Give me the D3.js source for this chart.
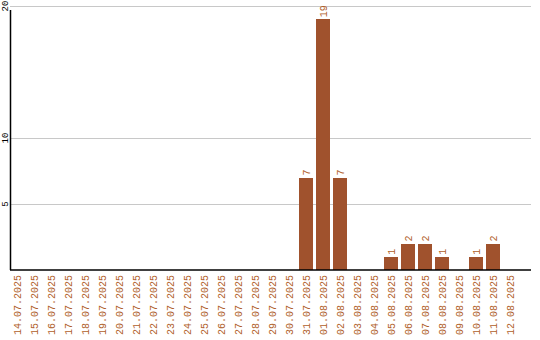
<!DOCTYPE html>
<html>
<head>
<meta charset="utf-8">
<script src="https://cdn.jsdelivr.net/npm/d3@7"></script>
<style>
  body { margin: 0; background: #fff; }
  text { font-family: "Liberation Mono", "DejaVu Sans Mono", monospace; }
</style>
</head>
<body>
<div id="chart"></div>
<script>
var svgWidth = 540;
var svgHeight = 340;

// data
var dates = ["14.07.2025", "15.07.2025", "16.07.2025", "17.07.2025", "18.07.2025",
  "19.07.2025", "20.07.2025", "21.07.2025", "22.07.2025", "23.07.2025",
  "24.07.2025", "25.07.2025", "26.07.2025", "27.07.2025", "28.07.2025",
  "29.07.2025", "30.07.2025", "31.07.2025", "01.08.2025", "02.08.2025",
  "03.08.2025", "04.08.2025", "05.08.2025", "06.08.2025", "07.08.2025",
  "08.08.2025", "09.08.2025", "10.08.2025", "11.08.2025", "12.08.2025"];
var counts = [0, 0, 0, 0, 0, 0, 0, 0, 0, 0,
  0, 0, 0, 0, 0, 0, 0, 7, 19, 7,
  0, 0, 1, 2, 2, 1, 0, 1, 2, 0];
var yTicks = [5, 10, 20];

var data = dates.map(function(d, i) { return { date: d, count: counts[i] }; });

var barColor = "#a0522d";
var labelColor = "#b0602a";
// note: "top" is a reserved window global, so use plot* names
var plotLeft = 10, plotRight = 531, plotTop = 6, plotBottom = 270;

var svg = d3.select("#chart")
  .append("svg")
  .attr("width", svgWidth)
  .attr("height", svgHeight);

var xScale = d3.scaleBand()
  .domain(dates)
  .range([8.5, 518.5])
  .paddingInner(3 / 17)
  .paddingOuter(1.5 / 17);

var yScale = d3.scaleLinear()
  .domain([0, 20])
  .range([plotBottom, plotTop]);

// grid lines
svg.append("g")
  .selectAll("line")
  .data(yTicks)
  .enter()
  .append("line")
  .attr("x1", plotLeft)
  .attr("x2", plotRight)
  .attr("y1", d => Math.round(yScale(d)) + 0.5)
  .attr("y2", d => Math.round(yScale(d)) + 0.5)
  .attr("stroke", "#c8c8c8")
  .attr("stroke-width", 1);

// y tick labels, rotated
svg.append("g")
  .selectAll("text")
  .data(yTicks)
  .enter()
  .append("text")
  .attr("transform", d => `translate(8, ${yScale(d)}) rotate(-90)`)
  .attr("text-anchor", "middle")
  .attr("font-size", "9px")
  .attr("fill", "#000")
  .text(d => d);

// bars
svg.append("g")
  .selectAll("rect")
  .data(data.filter(d => d.count > 0))
  .enter()
  .append("rect")
  .attr("x", d => xScale(d.date))
  .attr("y", d => yScale(d.count))
  .attr("width", xScale.bandwidth())
  .attr("height", d => yScale(0) - yScale(d.count))
  .attr("fill", barColor)
  .attr("shape-rendering", "crispEdges");

// value labels
svg.append("g")
  .selectAll("text")
  .data(data.filter(d => d.count > 0))
  .enter()
  .append("text")
  .attr("transform", d => `translate(${xScale(d.date) + xScale.bandwidth() / 2 + 3.5}, ${yScale(d.count) - 2}) rotate(-90)`)
  .attr("text-anchor", "start")
  .attr("font-size", "10px")
  .attr("fill", labelColor)
  .text(d => d.count);

// axes lines
svg.append("line")
  .attr("x1", plotLeft + 0.5).attr("x2", plotLeft + 0.5)
  .attr("y1", 10).attr("y2", plotBottom)
  .attr("stroke", "#000").attr("stroke-width", 1.5);

svg.append("line")
  .attr("x1", plotLeft).attr("x2", plotRight)
  .attr("y1", plotBottom).attr("y2", plotBottom)
  .attr("stroke", "#000").attr("stroke-width", 1.5);

// x labels
svg.append("g")
  .selectAll("text")
  .data(dates)
  .enter()
  .append("text")
  .attr("transform", d => `translate(${xScale(d) + xScale.bandwidth() / 2 + 4}, 275) rotate(-90)`)
  .attr("text-anchor", "end")
  .attr("font-size", "10px")
  .attr("fill", labelColor)
  .text(d => d);
</script>
</body>
</html>
